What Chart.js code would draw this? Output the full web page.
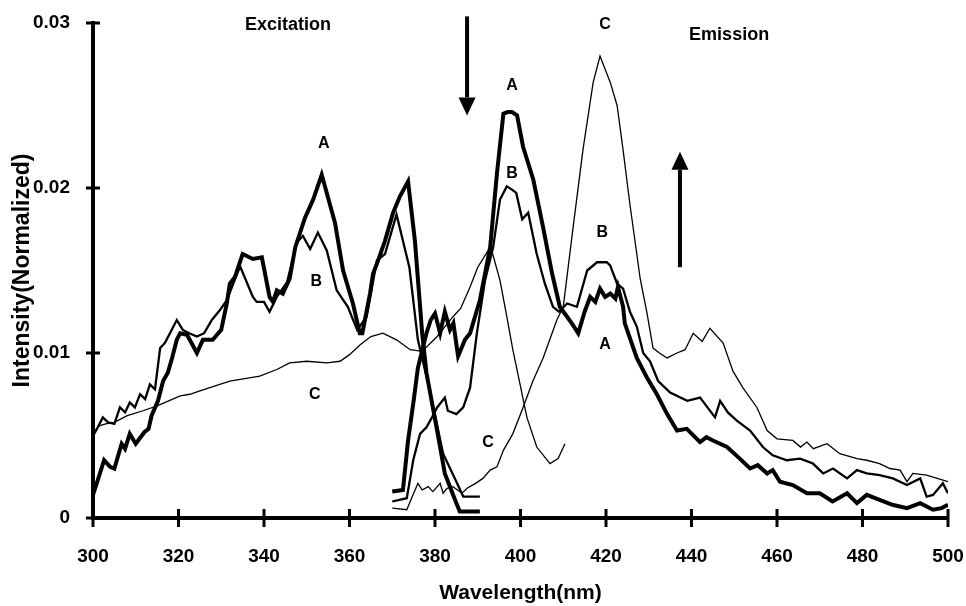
<!DOCTYPE html>
<html>
<head>
<meta charset="utf-8">
<title>Excitation / Emission spectra</title>
<script src="https://cdn.jsdelivr.net/npm/chart.js@4.4.1/dist/chart.umd.min.js"></script>
<style>
  body { margin: 0; background: #fff; }
  canvas { display: block; }
</style>
</head>
<body>
<canvas id="spectra" width="966" height="606"></canvas>
<script>
const ctx = document.getElementById("spectra");

// excitation spectra (300-410 nm)
const exAwl = [300, 301, 302.6, 304, 305, 306.7, 307.5, 308.6, 310, 312, 313, 313.7, 315.2, 316.4, 317.5, 318.5, 319.6, 320.4, 322, 324.3, 325.7, 328, 330, 331.3, 332, 333.2, 335, 337.4, 339.5, 341.3, 342.1, 343, 344.4, 346, 347.3, 349.6, 351.5, 353.5, 356.6, 358.5, 360.8, 362.4, 363, 364.8, 365.5, 366.4, 368.3, 370.2, 371.8, 373.7, 375.3, 377, 378, 380.5, 382.3, 385, 385.8, 390.5];
const exA = [0.0014, 0.0022, 0.0035, 0.0031, 0.0030, 0.0045, 0.0042, 0.0051, 0.0045, 0.0052, 0.0054, 0.0062, 0.0071, 0.0083, 0.0088, 0.0097, 0.0108, 0.0112, 0.0111, 0.0100, 0.0108, 0.0108, 0.0114, 0.0130, 0.0142, 0.0146, 0.0160, 0.0157, 0.0158, 0.0134, 0.0131, 0.0138, 0.0136, 0.0145, 0.0164, 0.0182, 0.0193, 0.0208, 0.0179, 0.0150, 0.0130, 0.0112, 0.0112, 0.0136, 0.0148, 0.0154, 0.0168, 0.0185, 0.0195, 0.0204, 0.0168, 0.0112, 0.0088, 0.0053, 0.0027, 0.0009, 0.0004, 0.0004];

const exBwl = [300, 300.5, 302.3, 303.5, 305, 306.3, 307.5, 308.6, 309.8, 311, 312.2, 313.3, 314.5, 315.7, 316.8, 318, 319.6, 321, 322.5, 324.3, 326, 327.8, 329.7, 331.3, 334, 334.5, 337.4, 338.3, 340, 341.3, 343, 345.4, 347.7, 349.1, 350.8, 352.6, 354.7, 357, 359.6, 361.8, 364, 366.4, 368.3, 371, 374, 376, 378.8, 381.9, 385, 386.6, 390.5];
const exB = [0.0050, 0.0052, 0.0061, 0.0058, 0.0057, 0.0067, 0.0064, 0.0070, 0.0067, 0.0075, 0.0072, 0.0081, 0.0078, 0.0103, 0.0106, 0.0112, 0.0120, 0.0114, 0.0112, 0.0110, 0.0112, 0.0120, 0.0126, 0.0132, 0.0150, 0.0152, 0.0134, 0.0131, 0.0131, 0.0125, 0.0134, 0.0143, 0.0167, 0.0171, 0.0163, 0.0173, 0.0162, 0.0138, 0.0128, 0.0114, 0.0122, 0.0156, 0.0160, 0.0184, 0.0152, 0.0108, 0.0077, 0.0039, 0.0022, 0.0013, 0.0013];

const exCwl = [300, 300.5, 301.6, 303, 305, 308, 311.7, 315, 320.4, 322.7, 325, 332, 339, 343, 346, 350, 354.7, 357.8, 360, 362.5, 365, 367.8, 371, 374.2, 377, 380.5, 384.2, 386, 388.2, 390, 392.4, 393.5, 395.2, 396.8, 398.2, 399.9, 401.5, 403.8, 406.9, 408.8, 410.4];
const exC = [0.0050, 0.0053, 0.0056, 0.0057, 0.0058, 0.0062, 0.0065, 0.0068, 0.0074, 0.0075, 0.0077, 0.0083, 0.0086, 0.0090, 0.0094, 0.0095, 0.0094, 0.0095, 0.0099, 0.0105, 0.0110, 0.0112, 0.0108, 0.0102, 0.0101, 0.0110, 0.0122, 0.0127, 0.0140, 0.0152, 0.0162, 0.0160, 0.0144, 0.0122, 0.0102, 0.0081, 0.0061, 0.0043, 0.0033, 0.0036, 0.0045];

// emission spectra (370-500 nm)
const emAwl = [370, 372.5, 373.7, 375, 376, 378, 379, 380, 381.2, 382.3, 383.5, 384.3, 385.4, 387, 388.2, 390.5, 392.9, 394.5, 396, 397, 398, 399.2, 400.6, 403, 405.3, 407.4, 409.2, 410.9, 412, 413.5, 415, 416.3, 417.5, 418.6, 419.8, 421, 422.2, 422.8, 424, 424.4, 427.2, 429.6, 431.9, 434.3, 436.6, 438.9, 442, 443.5, 445, 448.3, 451.3, 453.7, 455.5, 457.7, 459, 460.7, 463.7, 467, 470, 473, 476.4, 478.7, 481, 484, 487, 490.4, 493.5, 496.5, 498.5, 500];
const emA = [0.0016, 0.0017, 0.0047, 0.0071, 0.0091, 0.0112, 0.0120, 0.0124, 0.0112, 0.0125, 0.0114, 0.0118, 0.0098, 0.0108, 0.0112, 0.0132, 0.0164, 0.0209, 0.0245, 0.0246, 0.0246, 0.0244, 0.0225, 0.0205, 0.0176, 0.0148, 0.0128, 0.0122, 0.0118, 0.0112, 0.0125, 0.0134, 0.0131, 0.0139, 0.0134, 0.0136, 0.0133, 0.0140, 0.0128, 0.0118, 0.0097, 0.0085, 0.0075, 0.0063, 0.0053, 0.0054, 0.0046, 0.0049, 0.0047, 0.0043, 0.0036, 0.0030, 0.0032, 0.0027, 0.0029, 0.0022, 0.0020, 0.0015, 0.0015, 0.0010, 0.0015, 0.0009, 0.0014, 0.0011, 0.0008, 0.0006, 0.0009, 0.0005, 0.0006, 0.0008];

const emBwl = [370, 373.4, 374.9, 376.5, 378, 379.3, 380.5, 382.3, 383, 385, 386.6, 388.2, 389.8, 391.7, 393.6, 395.2, 396.8, 398, 399, 400.4, 401.8, 403.8, 405.7, 407.6, 409, 410.9, 413.2, 415.6, 417.9, 420.2, 421, 422.6, 424, 425.6, 427.2, 428.7, 430.3, 432.2, 435, 439, 442, 445.5, 446.7, 448.5, 450.6, 453.7, 456.7, 459, 462.3, 465.4, 468.4, 470.8, 473.1, 476.4, 478.7, 481, 484, 487.1, 490.4, 493.5, 495, 496.5, 498.8, 500];
const emB = [0.0010, 0.0012, 0.0035, 0.0051, 0.0055, 0.0061, 0.0067, 0.0073, 0.0065, 0.0063, 0.0067, 0.0079, 0.0112, 0.0144, 0.0164, 0.0193, 0.0201, 0.0199, 0.0197, 0.0181, 0.0185, 0.0160, 0.0142, 0.0128, 0.0125, 0.0130, 0.0128, 0.0150, 0.0155, 0.0155, 0.0153, 0.0142, 0.0139, 0.0125, 0.0116, 0.0100, 0.0095, 0.0083, 0.0076, 0.0071, 0.0073, 0.0061, 0.0071, 0.0064, 0.0059, 0.0053, 0.0043, 0.0038, 0.0035, 0.0036, 0.0033, 0.0027, 0.0030, 0.0024, 0.0029, 0.0027, 0.0026, 0.0024, 0.0020, 0.0024, 0.0013, 0.0014, 0.0021, 0.0015];

const emCwl = [370, 373.4, 374.2, 376, 377, 378.4, 379.5, 381.2, 381.9, 382.8, 384.2, 386.3, 387.5, 389.5, 391.2, 392.9, 394.5, 396, 398.2, 400.6, 402.9, 405.3, 408.5, 410, 412.3, 414.6, 417, 418.6, 421, 422.6, 424, 425.6, 428, 429.6, 431, 432.5, 434.3, 436.6, 438.5, 440.4, 442.5, 444.3, 447.4, 449.7, 452, 455.3, 457.7, 460, 463.7, 465.5, 467, 468.5, 471.7, 474.7, 478.7, 481, 484, 486.4, 488.8, 490.4, 491.8, 495, 500];
const emC = [0.0006, 0.0005, 0.0010, 0.0021, 0.0017, 0.0019, 0.0016, 0.0021, 0.0015, 0.0018, 0.0019, 0.0015, 0.0018, 0.0021, 0.0024, 0.0029, 0.0031, 0.0041, 0.0051, 0.0067, 0.0083, 0.0097, 0.0120, 0.0128, 0.0176, 0.0223, 0.0264, 0.0280, 0.0264, 0.0250, 0.0223, 0.0190, 0.0145, 0.0124, 0.0103, 0.0100, 0.0097, 0.0100, 0.0102, 0.0112, 0.0107, 0.0115, 0.0106, 0.0089, 0.0079, 0.0067, 0.0053, 0.0048, 0.0047, 0.0043, 0.0046, 0.0042, 0.0045, 0.0039, 0.0036, 0.0035, 0.0033, 0.0030, 0.0029, 0.0022, 0.0027, 0.0026, 0.0022];

// curve letters and headings, placed in data units
const noteText = ["A", "B", "C", "A", "B", "C", "B", "A", "C", "Excitation", "Emission"];
const noteX = [354.0, 352.2, 351.9, 398.0, 398.0, 419.8, 419.1, 419.8, 392.4, 345.6, 448.8];
const noteY = [0.0227, 0.0143, 0.0075, 0.0262, 0.0209, 0.0299, 0.0173, 0.0105, 0.0046, 0.0299, 0.0293];

// arrows: x, tail y, tip y
const arrowX = [387.5, 437.3];
const arrowFrom = [0.0304, 0.0152];
const arrowTo = [0.0244, 0.0222];

const FONT = "'Liberation Sans', Arial, Helvetica, sans-serif";

function pts(xs, ys) {
  return xs.map((x, i) => ({ x: x, y: ys[i] }));
}

function series(label, xs, ys, width) {
  return {
    label: label,
    data: pts(xs, ys),
    borderColor: "#000000",
    borderWidth: width,
    pointRadius: 0,
    tension: 0,
    fill: false,
  };
}

const extras = {
  id: "extras",
  afterDraw(chart) {
    const c = chart.ctx;
    const x = chart.scales.x;
    const y = chart.scales.y;
    const area = chart.chartArea;
    c.save();
    c.strokeStyle = "#000";
    c.fillStyle = "#000";
    c.lineWidth = 3;
    // ticks crossing the axes
    x.ticks.forEach((t) => {
      const px = x.getPixelForValue(t.value);
      c.beginPath();
      c.moveTo(px, area.bottom - 9);
      c.lineTo(px, area.bottom + 9);
      c.stroke();
    });
    y.ticks.forEach((t) => {
      const py = y.getPixelForValue(t.value);
      c.beginPath();
      c.moveTo(area.left - 7, py);
      c.lineTo(area.left + 7, py);
      c.stroke();
    });

    // notes
    c.textAlign = "center";
    c.textBaseline = "middle";
    for (let i = 0; i < noteText.length; i++) {
      const big = noteText[i].length > 1;
      c.font = "bold " + (big ? 18 : 16) + "px " + FONT;
      c.fillText(noteText[i], x.getPixelForValue(noteX[i]), y.getPixelForValue(noteY[i]));
    }

    // arrows
    c.lineWidth = 4;
    for (let i = 0; i < arrowX.length; i++) {
      const px = x.getPixelForValue(arrowX[i]);
      const y0 = y.getPixelForValue(arrowFrom[i]);
      const y1 = y.getPixelForValue(arrowTo[i]);
      const dir = y1 > y0 ? 1 : -1;
      const headLen = 18;
      c.beginPath();
      c.moveTo(px, y0);
      c.lineTo(px, y1 - dir * headLen);
      c.stroke();
      c.beginPath();
      c.moveTo(px, y1);
      c.lineTo(px - 8.5, y1 - dir * headLen);
      c.lineTo(px + 8.5, y1 - dir * headLen);
      c.closePath();
      c.fill();
    }
    c.restore();
  },
};

const chart = new Chart(ctx, {
  type: "line",
  data: {
    datasets: [
      series("Excitation A", exAwl, exA, 4),
      series("Excitation B", exBwl, exB, 2.3),
      series("Excitation C", exCwl, exC, 1.3),
      series("Emission A", emAwl, emA, 4),
      series("Emission B", emBwl, emB, 2.3),
      series("Emission C", emCwl, emC, 1.3),
    ],
  },
  options: {
    responsive: false,
    animation: false,
    devicePixelRatio: 1,
    layout: { padding: { top: 23, right: 18, left: 0, bottom: 0 } },
    plugins: {
      legend: { display: false },
      tooltip: { enabled: false },
    },
    scales: {
      x: {
        type: "linear",
        min: 300,
        max: 500,
        grid: { display: false },
        border: { display: true, color: "#000", width: 4 },
        ticks: {
          stepSize: 20,
          padding: 19,
          color: "#000",
          font: { family: FONT, size: 19, weight: "bold" },
        },
        title: {
          display: true,
          text: "Wavelength(nm)",
          color: "#000",
          font: { family: FONT, size: 21, weight: "bold" },
          padding: { top: 0, bottom: 0 },
        },
        afterFit: (scale) => {
          scale.height = 88;
          scale.paddingLeft = 0;
          scale.paddingRight = 0;
        },
      },
      y: {
        min: 0,
        max: 0.03,
        grid: { display: false },
        border: { display: true, color: "#000", width: 4 },
        ticks: {
          stepSize: 0.01,
          padding: 15,
          color: "#000",
          font: { family: FONT, size: 19, weight: "bold" },
          callback: (v) => (v === 0 ? "0" : v.toFixed(2)),
        },
        title: {
          display: true,
          text: "Intensity(Normalized)",
          color: "#000",
          font: { family: FONT, size: 23, weight: "bold" },
          padding: { top: 9, bottom: 0 },
        },
        afterFit: (scale) => {
          scale.width = 93;
          scale.paddingTop = 0;
          scale.paddingBottom = 0;
        },
      },
    },
  },
  plugins: [extras],
});
</script>
</body>
</html>
